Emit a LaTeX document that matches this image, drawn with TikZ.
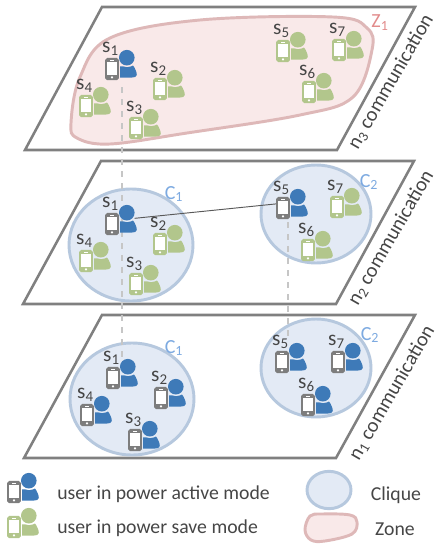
\documentclass[tikz,border=0pt]{standalone}
\usepackage{fontspec}
\setmainfont{Carlito}
\usepackage{tikz}
\usetikzlibrary{shapes.geometric,arrows.meta,positioning,calc}
\definecolor{activeBlue}{RGB}{62,122,184}
\definecolor{saveGreen}{RGB}{178,198,140}
\definecolor{phoneGray}{RGB}{125,125,125}
\definecolor{planeGray}{RGB}{128,128,128}
\definecolor{cliqueEdge}{RGB}{182,200,222}
\definecolor{cliqueFill}{RGB}{227,234,245}
\definecolor{zoneEdge}{RGB}{222,184,184}
\definecolor{zoneFill}{RGB}{249,233,233}
\definecolor{cliqueText}{RGB}{125,170,225}
\definecolor{zoneText}{RGB}{226,140,140}
\definecolor{labelGray}{RGB}{70,70,70}

% name, x, y, phone colour, person colour, index
\newcommand{\usericon}[6]{
  \begin{scope}[shift={(#2,#3)}]
    \node[phone, fill=#4] (#1) at (0,0) {};
    \fill[white] (-4.6,-7) rectangle (4.6,6.2);
    \fill[white] (-2,-9.3) rectangle (2,-8.3);
    \fill[white] (0,8.4) circle (1.2);
    \node[body] (#1p) at (16,-5) {};
    \fill[#5] (14.8,-11.3) circle (7.8);
    \fill[#5] (8,8.5) -- (8,-2.5) .. controls (10,-3.5) and (12,-2) .. (15,-1.8)
      .. controls (18,-2) and (20,-3) .. (21,-3.5)
      .. controls (23,-1) and (24.8,3) .. (24.8,6)
      .. controls (24.8,8) and (22,8.5) .. (20,8.5) -- cycle;
    \ifx&#6&\else
      \node[lbl, anchor=base] (#1l) at (-1.5,-17) {s\textsubscript{#6}};
    \fi
  \end{scope}
}

\begin{document}
\begin{tikzpicture}[x=0.75pt, y=-0.75pt,
    plane/.style={draw=planeGray, line width=1.9pt, fill=white, line join=miter},
    clique/.style={ellipse, draw=cliqueEdge, fill=cliqueFill, line width=2.2pt, inner sep=0pt},
    zone/.style={draw=zoneEdge, fill=zoneFill, line width=2.2pt},
    phone/.style={rounded corners=1.4pt, inner sep=0pt, minimum width=10.2pt, minimum height=16.6pt},
    body/.style={inner sep=0pt, minimum width=12pt, minimum height=20pt},
    lbl/.style={font=\fontsize{16}{18}\selectfont, text=labelGray, inner sep=0pt},
    comm/.style={font=\fontsize{15.3}{18}\selectfont, text=labelGray, rotate=60, inner sep=0pt},
    legend/.style={font=\fontsize{14.8}{17}\selectfont, text=labelGray, inner sep=0pt},
    dashlink/.style={draw=gray!45, line width=1.1pt, dash pattern=on 4.5pt off 4.5pt}
  ]
  \useasboundingbox (0,0) rectangle (438,550);

  % Planes
  \draw[plane] (102,7) -- (415,7) -- (337,150) -- (25,150) -- cycle;
  \draw[plane] (101,161) -- (414,161) -- (336,304) -- (23,304) -- cycle;
  \draw[plane] (102,315) -- (415,315) -- (336,458) -- (24,458) -- cycle;
  \node[comm] (n3) at (391,82) {n\textsubscript{3} communication};
  \node[comm] (n2) at (391,238) {n\textsubscript{2} communication};
  \node[comm] (n1) at (392,393) {n\textsubscript{1} communication};

  % Zone and cliques
  \draw[zone] plot[smooth cycle, tension=0.6] coordinates {(71,123) (80,77) (110,38) (200,20)
    (333,17) (367,28) (372,50) (353,97) (300,115) (187,133) (110,144) (77,138)};
  \node[lbl, text=zoneText, font=\fontsize{15}{16}\selectfont] (z1) at (380,23) {Z\textsubscript{1}};

  \node[clique, minimum width=93pt, minimum height=84pt] (c1m) at (131,245) {};
  \node[clique, minimum width=82.5pt, minimum height=73.5pt] (c2m) at (316,214) {};
  \node[clique, minimum width=93pt, minimum height=84pt] (c1b) at (132,399) {};
  \node[clique, minimum width=82.5pt, minimum height=73.5pt] (c2b) at (316,368) {};
  \node[lbl, text=cliqueText, font=\fontsize{15}{16}\selectfont] (c1ml) at (174,194) {C\textsubscript{1}};
  \node[lbl, text=cliqueText, font=\fontsize{15}{16}\selectfont] (c2ml) at (369,182) {C\textsubscript{2}};
  \node[lbl, text=cliqueText, font=\fontsize{15}{16}\selectfont] (c1bl) at (174,348) {C\textsubscript{1}};
  \node[lbl, text=cliqueText, font=\fontsize{15}{16}\selectfont] (c2bl) at (370,335) {C\textsubscript{2}};

  % Dashed links between planes
  \coordinate (dashAtop) at (122,87);
  \coordinate (dashAbot) at (122,362);
  \coordinate (dashBtop) at (288,222);
  \coordinate (dashBbot) at (288,336);
  \draw[dashlink] (dashAtop) -- (dashAbot);
  \draw[dashlink] (dashBtop) -- (dashBbot);

  % Top plane
  \usericon{t1}{112}{69}{phoneGray}{activeBlue}{1}
  \usericon{t2}{160}{89}{saveGreen}{saveGreen}{2}
  \usericon{t3}{136}{128}{saveGreen}{saveGreen}{3}
  \usericon{t4}{86}{106}{saveGreen}{saveGreen}{4}
  \usericon{t5}{283}{51}{saveGreen}{saveGreen}{5}
  \usericon{t6}{309}{92}{saveGreen}{saveGreen}{6}
  \usericon{t7}{339}{50}{saveGreen}{saveGreen}{7}

  % Middle plane
  \usericon{m1}{112}{224}{phoneGray}{activeBlue}{1}
  \usericon{m2}{160}{244}{saveGreen}{saveGreen}{2}
  \usericon{m3}{136}{284}{saveGreen}{saveGreen}{3}
  \usericon{m4}{86}{261}{saveGreen}{saveGreen}{4}
  \usericon{m5}{283}{208}{phoneGray}{activeBlue}{5}
  \usericon{m6}{308}{250}{saveGreen}{saveGreen}{6}
  \usericon{m7}{337}{207}{saveGreen}{saveGreen}{7}
  \draw[draw=black!65, line width=0.7pt, shorten <=5pt] (m1p.center) -- (m5.150);

  % Bottom plane
  \usericon{b1}{113}{378}{phoneGray}{activeBlue}{1}
  \usericon{b2}{161}{398}{phoneGray}{activeBlue}{2}
  \usericon{b3}{135}{440}{phoneGray}{activeBlue}{3}
  \usericon{b4}{87}{415}{phoneGray}{activeBlue}{4}
  \usericon{b5}{282}{362}{phoneGray}{activeBlue}{5}
  \usericon{b6}{308}{405}{phoneGray}{activeBlue}{6}
  \usericon{b7}{338}{362}{phoneGray}{activeBlue}{7}

  % Legend
  \usericon{keyA}{14}{492}{phoneGray}{activeBlue}{}
  \usericon{keyS}{14}{527}{saveGreen}{saveGreen}{}
  \node[legend, anchor=west] (txtA) at (57,494) {user in power active mode};
  \node[legend, anchor=west] (txtS) at (57,528) {user in power save mode};
  \node[clique, minimum width=33pt, minimum height=28pt] (keyC) at (329,490) {};
  \draw[zone] plot[smooth cycle, tension=0.6] coordinates {(305,530) (310,516) (322,514)
    (350,515) (357,522) (352,534) (325,541) (311,540)};
  \node[legend] (txtC) at (396,495) {Clique};
  \node[legend] (txtZ) at (395,529) {Zone};
\end{tikzpicture}
\end{document}
